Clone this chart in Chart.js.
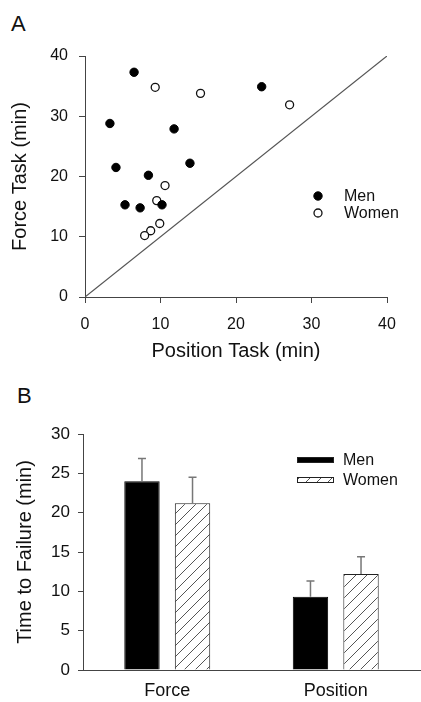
<!DOCTYPE html>
<html>
<head>
<meta charset="utf-8">
<script src="https://cdn.jsdelivr.net/npm/chart.js@4.4.1/dist/chart.umd.min.js"></script>
<style>
  body { margin: 0; background: #fff; width: 421px; height: 702px; overflow: hidden; position: relative; }
  .panel-letter { position: absolute; font-family: "Liberation Sans", Arial, sans-serif; font-size: 22px; color: #111; }
  #boxA { position: absolute; left: 0; top: 0; }
  #boxB { position: absolute; left: 0; top: 370px; }
</style>
</head>
<body>
<div class="panel-letter" style="left:11px; top:11px;">A</div>
<div class="panel-letter" style="left:17px; top:383px;">B</div>
<div id="boxA"><canvas id="canvasA" width="421" height="370"></canvas></div>
<div id="boxB"><canvas id="canvasB" width="421" height="332"></canvas></div>
<script>
// Panel A: individual times (min)
var menPosition   = [6.5, 3.3, 11.8, 4.1, 13.9, 8.4, 5.3, 7.3, 10.2, 23.4];
var menForce      = [37.3, 28.8, 27.9, 21.5, 22.2, 20.2, 15.3, 14.8, 15.3, 34.9];
var womenPosition = [9.3, 15.3, 27.1, 10.6, 9.5, 9.9, 8.7, 7.9];
var womenForce    = [34.8, 33.8, 31.9, 18.5, 16.0, 12.2, 11.0, 10.2];
var identityLine  = [0, 40];
var axisTicksA    = [0, 10, 20, 30, 40];

// Panel B: mean time to failure and SD (min)
var taskLabels = ['Force', 'Position'];
var menMean    = [24.0, 9.3];
var menSD      = [2.9, 2.0];
var womenMean  = [21.2, 12.2];
var womenSD    = [3.3, 2.2];

var fontFamily = '"Liberation Sans", Arial, sans-serif';
var textColor = '#111';
var axisColor = '#444';

function toPoints(xs, ys) {
    return xs.map(function (x, i) { return { x: x, y: ys[i] }; });
}

// diagonal hatch for the women bars
function makeHatch() {
    var s = 11;
    var c = document.createElement('canvas');
    c.width = s; c.height = s;
    var g = c.getContext('2d');
    g.fillStyle = '#fff';
    g.fillRect(0, 0, s, s);
    g.strokeStyle = '#555';
    g.lineWidth = 1;
    g.beginPath();
    g.moveTo(-1, s + 1); g.lineTo(s + 1, -1);
    g.moveTo(-2, 2); g.lineTo(2, -2);
    g.moveTo(s - 2, s + 2); g.lineTo(s + 2, s - 2);
    g.stroke();
    return g.createPattern(c, 'repeat');
}

// legend drawn inside the plot at a fixed spot
var scatterLegend = {
    id: 'scatterLegend',
    afterDraw: function (chart, args, opts) {
        var ctx = chart.ctx;
        ctx.save();
        ctx.font = '16px ' + fontFamily;
        ctx.textBaseline = 'middle';
        [0, 1].forEach(function (i) {
            var ds = chart.data.datasets[i];
            var y = opts.y + i * opts.gap;
            ctx.beginPath();
            ctx.arc(opts.x, y, ds.pointRadius, 0, Math.PI * 2);
            ctx.fillStyle = ds.backgroundColor;
            ctx.fill();
            ctx.lineWidth = ds.borderWidth;
            ctx.strokeStyle = ds.borderColor;
            ctx.stroke();
            ctx.fillStyle = textColor;
            ctx.fillText(ds.label, opts.x + 26, y + 1);
        });
        ctx.restore();
    }
};

var barLegend = {
    id: 'barLegend',
    afterDraw: function (chart, args, opts) {
        var ctx = chart.ctx;
        ctx.save();
        ctx.font = '16px ' + fontFamily;
        ctx.textBaseline = 'middle';
        chart.data.datasets.forEach(function (ds, i) {
            var y = opts.y + i * opts.gap;
            ctx.fillStyle = ds.backgroundColor;
            ctx.fillRect(opts.x, y - 3, 37, 6);
            ctx.lineWidth = 1;
            ctx.strokeStyle = '#222';
            ctx.strokeRect(opts.x + 0.5, y - 2.5, 36, 5);
            ctx.fillStyle = textColor;
            ctx.fillText(ds.label, opts.x + 46, y + 1);
        });
        ctx.restore();
    }
};

// upward error bars with a small cap
var errorBars = {
    id: 'errorBars',
    afterDatasetsDraw: function (chart) {
        var ctx = chart.ctx;
        var yScale = chart.scales.y;
        ctx.save();
        ctx.strokeStyle = '#777';
        ctx.lineWidth = 1.5;
        chart.data.datasets.forEach(function (ds, i) {
            var meta = chart.getDatasetMeta(i);
            meta.data.forEach(function (bar, j) {
                var top = yScale.getPixelForValue(ds.data[j] + ds.sd[j]);
                ctx.beginPath();
                ctx.moveTo(bar.x, bar.y);
                ctx.lineTo(bar.x, top);
                ctx.moveTo(bar.x - 4, top);
                ctx.lineTo(bar.x + 4, top);
                ctx.stroke();
            });
        });
        ctx.restore();
    }
};

var scatterChart = new Chart(document.getElementById('canvasA').getContext('2d'), {
    type: 'scatter',
    data: {
        datasets: [{
            label: 'Men',
            data: toPoints(menPosition, menForce),
            pointRadius: 4.2,
            pointHoverRadius: 4.2,
            backgroundColor: '#000',
            borderColor: '#000',
            borderWidth: 1
        }, {
            label: 'Women',
            data: toPoints(womenPosition, womenForce),
            pointRadius: 4,
            pointHoverRadius: 4,
            backgroundColor: '#fff',
            borderColor: '#111',
            borderWidth: 1.3
        }, {
            type: 'line',
            label: 'identity',
            data: toPoints(identityLine, identityLine),
            borderColor: '#555',
            borderWidth: 1.2,
            pointRadius: 0,
            fill: false
        }]
    },
    options: {
        responsive: false,
        animation: false,
        layout: { padding: { left: 0, top: 56, right: 34, bottom: 3 } },
        plugins: {
            legend: { display: false },
            tooltip: { enabled: false },
            scatterLegend: { x: 318, y: 196, gap: 17 }
        },
        scales: {
            x: {
                type: 'linear', min: 0, max: 40,
                afterBuildTicks: function (s) { s.ticks = axisTicksA.map(function (v) { return { value: v }; }); },
                afterFit: function (s) { s.height = 70; },
                grid: { drawOnChartArea: false, tickLength: 6, color: axisColor },
                border: { color: axisColor, width: 1 },
                ticks: { padding: 12, color: textColor, font: { family: fontFamily, size: 16 } },
                title: { display: true, text: 'Position Task (min)', color: textColor,
                         font: { family: fontFamily, size: 20 }, padding: { top: 0, bottom: 4 } }
            },
            y: {
                type: 'linear', min: 0, max: 40,
                afterBuildTicks: function (s) { s.ticks = axisTicksA.map(function (v) { return { value: v }; }); },
                afterFit: function (s) { s.width = 85; },
                grid: { drawOnChartArea: false, tickLength: 6, color: axisColor },
                border: { color: axisColor, width: 1 },
                ticks: { padding: 11, color: textColor, font: { family: fontFamily, size: 16 } },
                title: { display: true, text: 'Force Task (min)', color: textColor,
                         font: { family: fontFamily, size: 20 }, padding: { top: 8, bottom: 0 } }
            }
        }
    },
    plugins: [scatterLegend]
});

var barChart = new Chart(document.getElementById('canvasB').getContext('2d'), {
    type: 'bar',
    data: {
        labels: taskLabels,
        datasets: [{
            label: 'Men',
            data: menMean,
            sd: menSD,
            backgroundColor: '#000',
            borderColor: '#000',
            borderWidth: 1
        }, {
            label: 'Women',
            data: womenMean,
            sd: womenSD,
            backgroundColor: makeHatch(),
            borderColor: '#222',
            borderWidth: 1
        }]
    },
    options: {
        responsive: false,
        animation: false,
        categoryPercentage: 0.6,
        barPercentage: 0.7,
        layout: { padding: { left: 0, top: 64, right: 1, bottom: 0 } },
        plugins: {
            legend: { display: false },
            tooltip: { enabled: false },
            barLegend: { x: 297, y: 90, gap: 20 }
        },
        scales: {
            x: {
                afterFit: function (s) { s.height = 32; },
                grid: { display: false },
                border: { color: axisColor, width: 1 },
                ticks: { padding: 2, color: textColor, font: { family: fontFamily, size: 18 } }
            },
            y: {
                min: 0, max: 30,
                ticks: { stepSize: 5, padding: 8, color: textColor, font: { family: fontFamily, size: 17 } },
                afterFit: function (s) { s.width = 83; },
                grid: { drawOnChartArea: false, tickLength: 5, color: axisColor },
                border: { color: axisColor, width: 1 },
                title: { display: true, text: 'Time to Failure (min)', color: textColor,
                         font: { family: fontFamily, size: 20 }, padding: { top: 13, bottom: 0 } }
            }
        }
    },
    plugins: [errorBars, barLegend]
});
</script>
</body>
</html>
